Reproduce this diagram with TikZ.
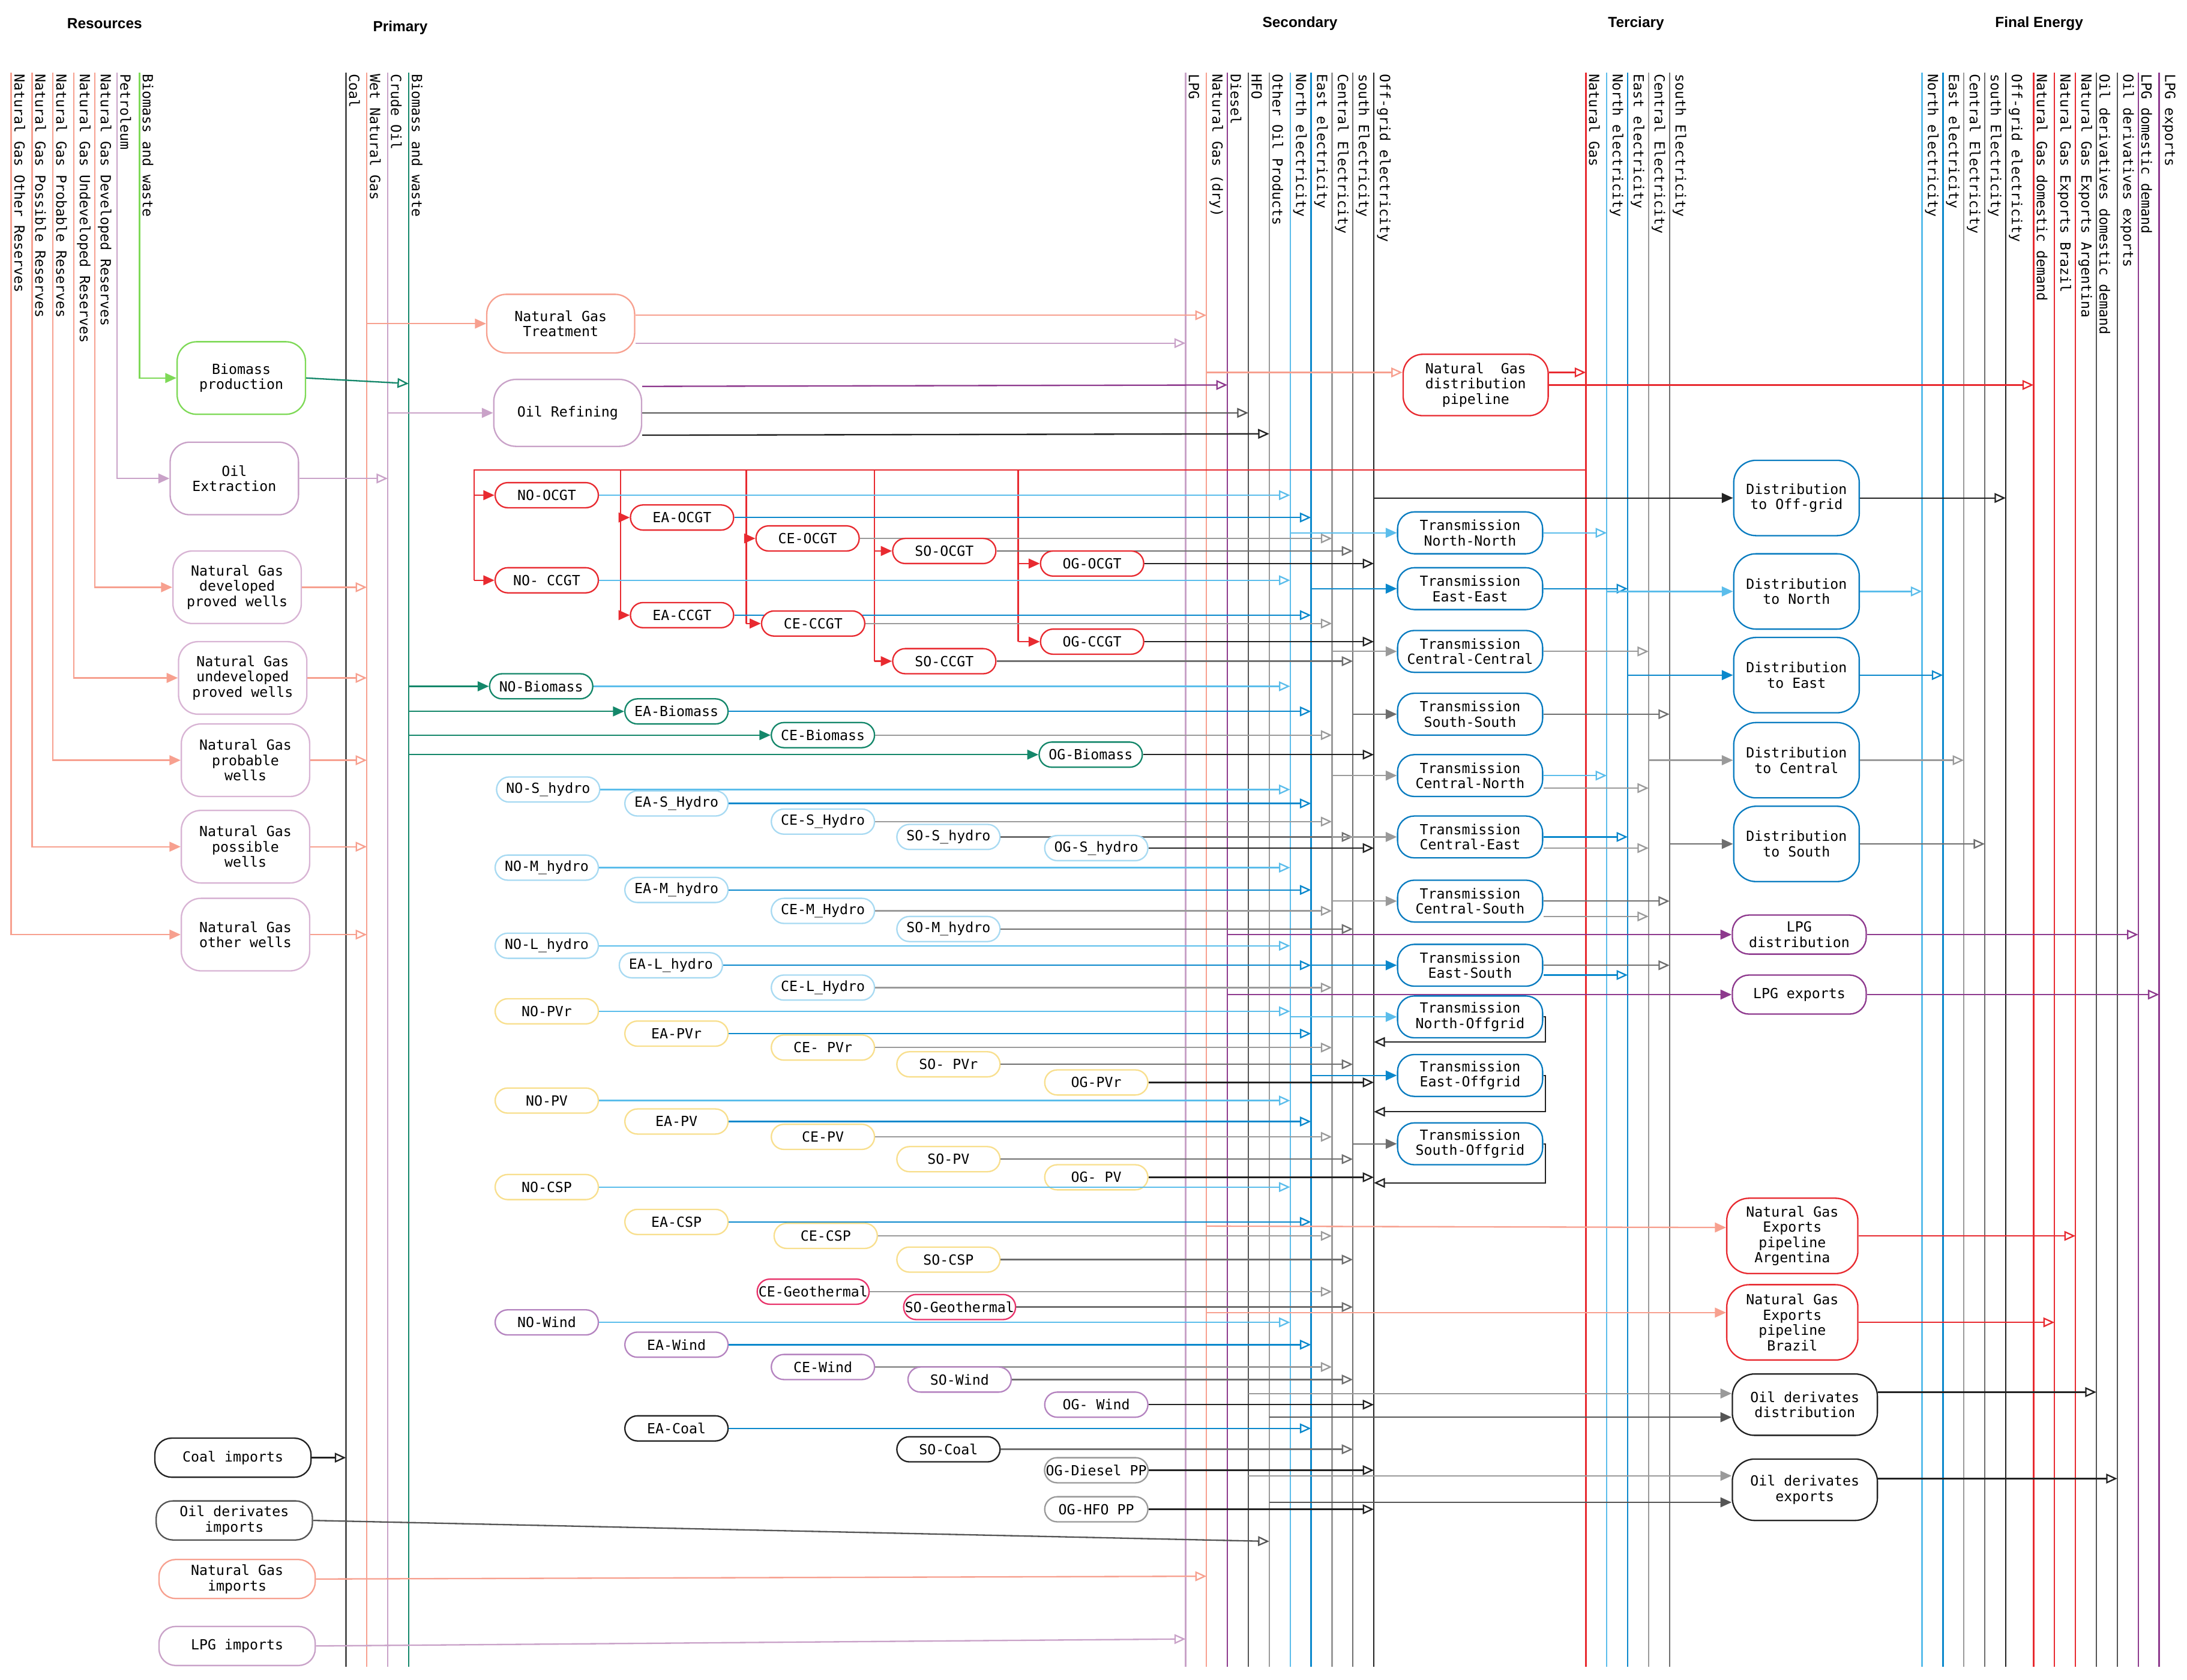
\documentclass[tikz,border=0pt]{standalone}
\usepackage{fontspec}
\setmainfont{Liberation Sans}
\setmonofont{DejaVu Sans Mono}
\usetikzlibrary{arrows.meta}
\definecolor{salmon}{HTML}{F7A08F}
\definecolor{red}{HTML}{E82A30}
\definecolor{lpurple}{HTML}{C9A2C8}
\definecolor{purple}{HTML}{8E3A8E}
\definecolor{teal}{HTML}{14876A}
\definecolor{green}{HTML}{7ED957}
\definecolor{lblue}{HTML}{5BBDEB}
\definecolor{blue}{HTML}{0A88CC}
\definecolor{blue2}{HTML}{0A7CC0}
\definecolor{gray}{HTML}{9A9A9A}
\definecolor{gray2}{HTML}{6E6E6E}
\definecolor{dgray}{HTML}{555555}
\definecolor{black}{HTML}{222222}
\definecolor{hyc}{HTML}{A8DAF2}
\definecolor{pvc}{HTML}{F8DF8E}
\definecolor{wic}{HTML}{B584C0}
\definecolor{geoc}{HTML}{E8336A}
\definecolor{resc}{HTML}{D8B4D4}
\begin{document}
\begin{tikzpicture}[x=1pt,y=-1pt,
 nf/.style={font=\ttfamily\fontsize{10}{11}\selectfont},
 vlab/.style={nf,rotate=-90,anchor=south west,inner sep=1pt},
 hdr/.style={font=\bfseries\fontsize{10.5}{12}\selectfont},
 arr/.style={-{Triangle[open,length=8pt,width=7pt]},line width=1pt},
 farr/.style={-{Triangle[length=8pt,width=7pt]},line width=1pt},
 box/.style={nf,draw,fill=white,align=center,inner sep=1pt,line width=1pt},
 res/.style={box,draw=resc,rounded corners=14pt,minimum width=92pt,minimum height=52pt},
 pp/.style={box,rounded corners=9pt,minimum width=74pt,minimum height=18pt},
 rd/.style={draw=red}, hy/.style={draw=hyc}, pv/.style={draw=pvc}, wi/.style={draw=wic},
 geo/.style={draw=geoc}, co/.style={draw=black}, op/.style={draw=gray},
 tr/.style={box,draw=blue2,rounded corners=12pt,minimum width=104pt,minimum height=30pt},
 dist/.style={box,draw=blue2,rounded corners=16pt,minimum width=90pt,minimum height=54pt},
 imp/.style={box,rounded corners=12pt,minimum width=112pt,minimum height=28pt}]
\useasboundingbox (0,0) rectangle (1568,1204);
% headers
\node[hdr] at (75,17) {Resources};
\node[hdr] at (287,20) {Primary};
\node[hdr] at (932,17) {Secondary};
\node[hdr] at (1173,17) {Terciary};
\node[hdr] at (1462,17) {Final Energy};
% buses
\foreach \x/\c/\t/\n in {248/dgray/Coal/bCoal,263/salmon/Wet Natural Gas/bWNG,278/lpurple/Crude Oil/bCrude,293/teal/Biomass and waste/bBio,
 850/lpurple/LPG/bLPG,865/salmon/Natural Gas (dry)/bNG,880/purple/Diesel/bDiesel,895/dgray/HFO/bHFO,910/gray/Other Oil Products/bOOP,
 925/lblue/North electricity/NO,940/blue/East electricity/EA,955/gray/Central Electricity/CE,970/gray2/south Electricity/SO,985/black/Off-grid electricity/OG,
 1137/red/Natural Gas/tNG,1152/lblue/North electricity/tNO,1167/blue/East electricity/tEA,1182/gray/Central Electricity/tCE,1197/gray2/south Electricity/tSO,
 1378/lblue/North electricity/fNO,1393/blue/East electricity/fEA,1408/gray/Central Electricity/fCE,1423/gray2/south Electricity/fSO,1438/black/Off-grid electricity/fOG,
 1458/red/Natural Gas domestic demand/fNGd,1473/red/Natural Gas Exports Brazil/fNGB,1488/red/Natural Gas Exports Argentina/fNGA,
 1503/dgray/Oil derivatives domestic demand/fOd,1518/dgray/Oil derivatives exports/fOe,1533/purple/LPG domestic demand/fLd,1548/purple/LPG exports/fLe}
 {\coordinate (\n) at (\x,0); \draw[color=\c,line width=1pt] (\x,52)--(\x,1195); \node[vlab] at (\x+1,52) {\t};}
% resource nodes
\node[res,draw=green] (biop) at (173,271) {Biomass\\production};
\node[res,draw=lpurple] (oilx) at (168,343) {Oil\\Extraction};
\node[res] (w1) at (170,421) {Natural Gas\\developed\\proved wells};
\node[res] (w2) at (174,486) {Natural Gas\\undeveloped\\proved wells};
\node[res] (w3) at (176,545) {Natural Gas\\probable\\wells};
\node[res] (w4) at (176,607) {Natural Gas\\possible\\wells};
\node[res] (w5) at (176,670) {Natural Gas\\other wells};
\foreach \x/\c/\t/\n in {8/salmon/Natural Gas Other Reserves/w5,23/salmon/Natural Gas Possible Reserves/w4,38/salmon/Natural Gas Probable Reserves/w3,
 53/salmon/Natural Gas Undeveloped Reserves/w2,68/salmon/Natural Gas Developed Reserves/w1,84/lpurple/Petroleum/oilx,100/green/Biomass and waste/biop}
 {\draw[farr,color=\c] (\x,52) |- (\n.west); \node[vlab] at (\x+1,52) {\t};}
\draw[arr,teal] (biop.east) -- (bBio |- 0,275);
\draw[arr,lpurple] (oilx.east) -- (oilx.east -| bCrude);
\foreach \n in {w1,w2,w3,w4,w5} \draw[arr,salmon] (\n.east) -- (\n.east -| bWNG);
% imports
\node[imp,draw=black] (cimp) at (167,1045) {Coal imports};
\node[imp,draw=dgray] (oimp) at (168,1090) {Oil derivates\\imports};
\node[imp,draw=salmon] (nimp) at (170,1132) {Natural Gas\\imports};
\node[imp,draw=lpurple] (limp) at (170,1180) {LPG imports};
\draw[arr,black] (cimp.east) -- (cimp.east -| bCoal);
\draw[arr,dgray] (oimp.east) -- (bOOP |- 0,1105);
\draw[arr,salmon] (nimp.east) -- (bNG |- 0,1130);
\draw[arr,lpurple] (limp.east) -- (bLPG |- 0,1175);
% primary processing
\node[box,draw=salmon,rounded corners=14pt,minimum width=106pt,minimum height=42pt] (ngt) at (402,232) {Natural Gas\\Treatment};
\node[box,draw=lpurple,rounded corners=16pt,minimum width=106pt,minimum height=48pt] (ref) at (407,296) {Oil Refining};
\draw[farr,salmon] (bWNG |- ngt.west) -- (ngt.west);
\draw[arr,salmon] (ngt.east |- 0,226) -- (bNG |- 0,226);
\draw[arr,lpurple] (ngt.east |- 0,246) -- (bLPG |- 0,246);
\draw[farr,lpurple] (bCrude |- ref.west) -- (ref.west);
\draw[arr,purple] (ref.east |- 0,277) -- (bDiesel |- 0,276);
\draw[arr,dgray] (ref.east) -- (bHFO |- ref.east);
\draw[arr,black] (ref.east |- 0,312) -- (bOOP |- 0,311);
\node[box,draw=red,rounded corners=14pt,minimum width=104pt,minimum height=44pt] (pipe) at (1058,276) {Natural\ \ Gas\\distribution\\pipeline};
\draw[arr,salmon] (bNG |- 0,267) -- (pipe.west |- 0,267);
\draw[arr,red] (pipe.east |- 0,267) -- (tNG |- 0,267);
\draw[arr,red] (pipe.east |- 0,276) -- (fNGd |- 0,276);
% red gas feed
\draw[red,line width=1pt] (tNG |- 0,337) -- (340,337) -- (340,416);
\foreach \bx/\by in {445/441,535/447,627/474,730/460} \draw[red,line width=1pt] (\bx,337) -- (\bx,\by);
\foreach \l/\x/\y/\b/\c/\bx [count=\i] in {NO-OCGT/392/355/NO/lblue/340,NO- CCGT/392/416/NO/lblue/340,EA-OCGT/489/371/EA/blue/445,EA-CCGT/489/441/EA/blue/445,
 CE-OCGT/579/386/CE/gray/535,CE-CCGT/583/447/CE/gray/535,SO-OCGT/677/395/SO/gray2/627,SO-CCGT/677/474/SO/gray2/627,OG-OCGT/783/404/OG/black/730,OG-CCGT/783/460/OG/black/730}
 {\node[pp,rd] (r\i) at (\x,\y) {\l};
  \draw[farr,red] (\bx,\y) -- (r\i.west);
  \draw[arr,color=\c] (r\i.east) -- (r\i.east -| \b);}
% biomass plants
\foreach \l/\x/\y/\b/\c [count=\i] in {NO-Biomass/388/492/NO/lblue,EA-Biomass/485/510/EA/blue,CE-Biomass/590/527/CE/gray,OG-Biomass/782/541/OG/black}
 {\node[pp,draw=teal] (b\i) at (\x,\y) {\l};
  \draw[farr,teal] (bBio |- b\i.west) -- (b\i.west);
  \draw[arr,color=\c] (b\i.east) -- (b\i.east -| \b);}
% other plants
\foreach \l/\x/\y/\s/\b/\c [count=\i] in {NO-S\_hydro/393/566/hy/NO/lblue,EA-S\_Hydro/485/576/hy/EA/blue,CE-S\_Hydro/590/589/hy/CE/gray,SO-S\_hydro/680/600/hy/SO/gray2,OG-S\_hydro/786/608/hy/OG/black,
 NO-M\_hydro/392/622/hy/NO/lblue,EA-M\_hydro/485/638/hy/EA/blue,CE-M\_Hydro/590/653/hy/CE/gray,SO-M\_hydro/680/666/hy/SO/gray2,
 NO-L\_hydro/392/678/hy/NO/lblue,EA-L\_hydro/481/692/hy/EA/blue,CE-L\_Hydro/590/708/hy/CE/gray,
 NO-PVr/392/725/pv/NO/lblue,EA-PVr/485/741/pv/EA/blue,CE- PVr/590/751/pv/CE/gray,SO- PVr/680/763/pv/SO/gray2,OG-PVr/786/776/pv/OG/black,
 NO-PV/392/789/pv/NO/lblue,EA-PV/485/804/pv/EA/blue,CE-PV/590/815/pv/CE/gray,SO-PV/680/831/pv/SO/gray2,OG- PV/786/844/pv/OG/black,
 NO-CSP/392/851/pv/NO/lblue,EA-CSP/485/876/pv/EA/blue,CE-CSP/592/886/pv/CE/gray,SO-CSP/680/903/pv/SO/gray2,
 CE-Geothermal/583/926/geo/CE/gray,SO-Geothermal/688/937/geo/SO/gray2,
 NO-Wind/392/948/wi/NO/lblue,EA-Wind/485/964/wi/EA/blue,CE-Wind/590/980/wi/CE/gray,SO-Wind/688/989/wi/SO/gray2,OG- Wind/786/1007/wi/OG/black,
 EA-Coal/485/1024/co/EA/blue,SO-Coal/680/1039/co/SO/gray2,OG-Diesel PP/786/1054/op/OG/black,OG-HFO PP/786/1082/op/OG/black}
 {\node[pp,\s] (q\i) at (\x,\y) {\l};
  \draw[arr,color=\c] (q\i.east) -- (q\i.east -| \b);}
% transmission
\foreach \l/\y/\ib/\ic/\ob/\oc [count=\i] in {North-North/382/NO/lblue/tNO/lblue,East-East/422/EA/blue/tEA/blue,Central-Central/467/CE/gray/tCE/gray,
 South-South/512/SO/gray2/tSO/gray2,Central-North/556/CE/gray/tNO/lblue,Central-East/600/CE/gray/tEA/blue,Central-South/646/CE/gray/tSO/gray2,East-South/692/EA/blue/tSO/gray2}
 {\node[tr] (t\i) at (1054,\y) {Transmission\\\l};
  \draw[farr,color=\ic] (t\i.west -| \ib) -- (t\i.west);
  \draw[arr,color=\oc] (t\i.east) -- (t\i.east -| \ob);}
\draw[arr,gray] (t5.east |- 0,565) -- (tCE |- 0,565);
\draw[arr,gray] (t6.east |- 0,608) -- (tCE |- 0,608);
\draw[arr,gray] (t7.east |- 0,657) -- (tCE |- 0,657);
\draw[arr,blue] (t8.east |- 0,699) -- (tEA |- 0,699);
\foreach \l/\y/\ib/\ic/\r [count=\i] in {North-Offgrid/729/NO/lblue/747,East-Offgrid/771/EA/blue/797,South-Offgrid/820/SO/gray2/848}
 {\node[tr] (o\i) at (1054,\y) {Transmission\\\l};
  \draw[farr,color=\ic] (o\i.west -| \ib) -- (o\i.west);
  \draw[arr,black] (o\i.east) -| (1108,\r) -- (OG |- 0,\r);}
% distribution
\foreach \l/\y/\ib/\ic/\ob/\oc [count=\i] in {Off-grid/357/OG/black/fOG/black,North/424/tNO/lblue/fNO/lblue,East/484/tEA/blue/fEA/blue,Central/545/tCE/gray/fCE/gray,South/605/tSO/gray2/fSO/gray2}
 {\node[dist] (d\i) at (1288,\y) {Distribution\\to \l};
  \draw[farr,color=\ic] (d\i.west -| \ib) -- (d\i.west);
  \draw[arr,color=\oc] (d\i.east) -- (d\i.east -| \ob);}
% LPG
\node[box,draw=purple,rounded corners=12pt,minimum width=96pt,minimum height=28pt] (lpgd) at (1290,670) {LPG\\distribution};
\node[box,draw=purple,rounded corners=12pt,minimum width=96pt,minimum height=28pt] (lpge) at (1290,713) {LPG exports};
\draw[farr,purple] (lpgd.west -| bDiesel) -- (lpgd.west);
\draw[farr,purple] (lpge.west -| bDiesel) -- (lpge.west);
\draw[arr,purple] (lpgd.east) -- (lpgd.east -| fLd);
\draw[arr,purple] (lpge.east) -- (lpge.east -| fLe);
% NG exports
\node[box,draw=red,rounded corners=16pt,minimum width=94pt,minimum height=54pt] (nga) at (1285,886) {Natural Gas\\Exports\\pipeline\\Argentina};
\node[box,draw=red,rounded corners=16pt,minimum width=94pt,minimum height=54pt] (ngb) at (1285,948) {Natural Gas\\Exports\\pipeline\\Brazil};
\draw[farr,salmon] (bNG |- 0,879) -- (nga.west |- 0,880);
\draw[farr,salmon] (bNG |- 0,941) -- (ngb.west |- 0,941);
\draw[arr,red] (nga.east) -- (nga.east -| fNGA);
\draw[arr,red] (ngb.east) -- (ngb.east -| fNGB);
% oil derivates
\node[box,draw=black,rounded corners=16pt,minimum width=104pt,minimum height=44pt] (odd) at (1294,1007) {Oil derivates\\distribution};
\node[box,draw=black,rounded corners=16pt,minimum width=104pt,minimum height=44pt] (ode) at (1294,1068) {Oil derivates\\exports};
\draw[farr,gray] (bHFO |- 0,999) -- (odd.west |- 0,999);
\draw[farr,dgray] (bOOP |- 0,1016) -- (odd.west |- 0,1016);
\draw[farr,gray] (bHFO |- 0,1058) -- (ode.west |- 0,1058);
\draw[farr,dgray] (bOOP |- 0,1077) -- (ode.west |- 0,1077);
\draw[arr,black] (odd.east |- 0,998) -- (fOd |- 0,998);
\draw[arr,black] (ode.east |- 0,1060) -- (fOe |- 0,1060);
\end{tikzpicture}
\end{document}
